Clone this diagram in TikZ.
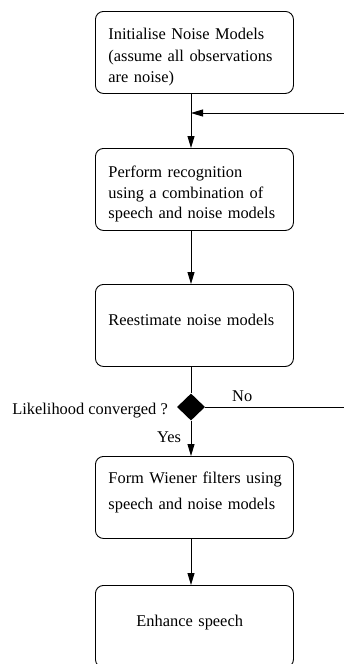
\documentclass[tikz,border=0pt]{standalone}
\usepackage{fontspec}
\setmainfont{Liberation Serif}
\usetikzlibrary{arrows.meta,shapes.geometric}
\begin{document}
\begin{tikzpicture}[x=1pt,y=-1pt,
  box/.style={draw,line width=0.9pt,rounded corners=8pt,minimum width=198pt,
    minimum height=82pt,text width=172pt,inner xsep=13pt,inner ysep=0pt,
    align=left,font=\fontsize{16.4}{21.5}\selectfont,anchor=north west},
  flow/.style={line width=0.9pt,-{Triangle[length=12pt,width=7pt]}},
  plain/.style={line width=0.9pt},
  lbl/.style={font=\fontsize{16.4}{20}\selectfont,inner sep=0pt}]
\clip (0,0) rectangle (344,664);
\coordinate (spine) at (191,0);
\node[box,text height=21pt] (b1) at (95,11) {Initialise Noise Models\\(assume all observations\\are noise)};
\node[box,text height=21pt,font=\fontsize{16.4}{20.5}\selectfont] (b2) at (95,148) {Perform recognition\\using a combination of\\speech and noise models};
\node[box,text depth=11pt] (b3) at (95,284) {Reestimate noise models};
\node[diamond,fill=black,minimum width=28pt,minimum height=27pt,inner sep=0pt] (d) at (191,407) {};
\node[box,text depth=40pt] (b4) at (95,456) {\mbox{Form Wiener filters using}\\[4.5pt]speech and noise models};
\node[box,text depth=11pt] (b5) at (95,585) {\hspace*{28pt}Enhance speech};
\node[lbl,anchor=base east] (q) at (168,414) {Likelihood converged ?};
\node[lbl,anchor=base west] (no) at (232,401) {No};
\node[lbl,anchor=base west] (yes) at (157,442) {Yes};
\coordinate (rb) at (346,407);
\coordinate (rt) at (346,113);
\draw[flow] (b1.south -| spine) -- (b2.north -| spine);
\draw[flow] (b2.south -| spine) -- (b3.north -| spine);
\draw[plain] (b3.south -| spine) -- (d.north);
\draw[flow] (d.south) -- (b4.north -| spine);
\draw[flow] (b4.south -| spine) -- (b5.north -| spine);
\draw[flow] (d.east) -- (rb) -- (rt) -- (rt -| spine);
\end{tikzpicture}
\end{document}
